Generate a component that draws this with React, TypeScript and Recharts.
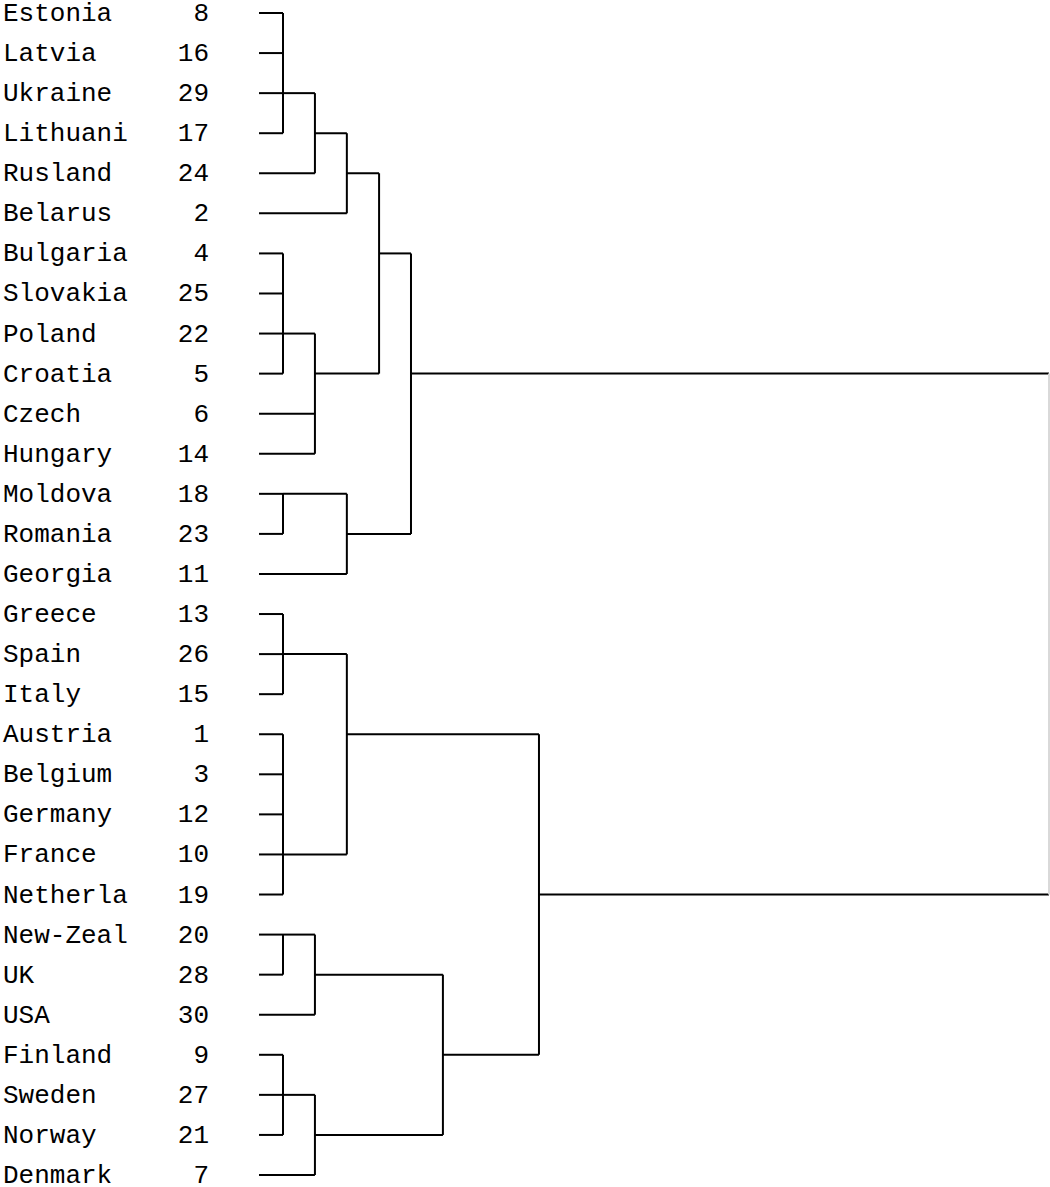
import { ComposedChart, ReferenceLine, Scatter, XAxis, YAxis } from "recharts";

// leaf order top to bottom, with case numbers
const names = [
  "Estonia", "Latvia", "Ukraine", "Lithuani", "Rusland", "Belarus",
  "Bulgaria", "Slovakia", "Poland", "Croatia", "Czech", "Hungary",
  "Moldova", "Romania", "Georgia", "Greece", "Spain", "Italy",
  "Austria", "Belgium", "Germany", "France", "Netherla", "New-Zeal",
  "UK", "USA", "Finland", "Sweden", "Norway", "Denmark",
];
const caseIds = [8, 16, 29, 17, 24, 2, 4, 25, 22, 5, 6, 14, 18, 23, 11, 13, 26, 15, 1, 3, 12, 10, 19, 20, 28, 30, 9, 27, 21, 7];

// merge steps (rescaled distance 0-25). children: "L<n>" = leaf row, "N<n>" = earlier merge
const mergeHeights = [0.76, 1.77, 2.78, 0.76, 1.77, 3.8, 0.76, 2.78, 4.81, 0.76, 0.76, 2.78, 0.76, 1.77, 0.76, 1.77, 5.82, 8.86, 25];
const mergeChildren = [
  ["L0", "L1", "L2", "L3"],
  ["N0", "L4"],
  ["N1", "L5"],
  ["L6", "L7", "L8", "L9"],
  ["N3", "L10", "L11"],
  ["N2", "N4"],
  ["L12", "L13"],
  ["N6", "L14"],
  ["N5", "N7"],
  ["L15", "L16", "L17"],
  ["L18", "L19", "L20", "L21", "L22"],
  ["N9", "N10"],
  ["L23", "L24"],
  ["N12", "L25"],
  ["L26", "L27", "L28"],
  ["N14", "L29"],
  ["N13", "N15"],
  ["N11", "N16"],
  ["N8", "N17"],
];
// row where each merge's outgoing line is drawn
const mergeRows = [2, 3, 4, 8, 9, 6, 12, 13, 9, 16, 21, 18, 23, 24, 27, 28, 26, 22, 15];

type Seg = { x1: number; y1: number; x2: number; y2: number; light?: boolean };

function buildSegments(): Seg[] {
  const parentOf: Record<string, number> = {};
  mergeChildren.forEach((kids, i) => kids.forEach((k) => (parentOf[k] = i)));
  const rowOf = (k: string) => (k[0] === "L" ? Number(k.slice(1)) : mergeRows[Number(k.slice(1))]);
  const segs: Seg[] = [];
  names.forEach((_, i) => {
    const p = parentOf["L" + i];
    segs.push({ x1: 0, y1: i, x2: mergeHeights[p], y2: i });
  });
  const root = mergeHeights.length - 1;
  mergeChildren.forEach((kids, i) => {
    const rows = kids.map(rowOf);
    segs.push({ x1: mergeHeights[i], y1: Math.min(...rows), x2: mergeHeights[i], y2: Math.max(...rows), light: i === root });
    if (i !== root) {
      const p = parentOf["N" + i];
      segs.push({ x1: mergeHeights[i], y1: mergeRows[i], x2: mergeHeights[p], y2: mergeRows[i] });
    }
  });
  return segs;
}

const segments = buildSegments();
const leafPoints = names.map((_, i) => ({ d: 0, row: i }));
const rowTicks = names.map((_, i) => i);

const FONT = "'Liberation Mono', 'Courier New', monospace";

function LeafTick({ y, payload }: any) {
  const i = payload.value as number;
  return (
    <g>
      <text x={3} y={y + 8} fontFamily={FONT} fontSize={26} fill="#000">
        {names[i]}
      </text>
      <text x={209} y={y + 8} fontFamily={FONT} fontSize={26} fill="#000" textAnchor="end">
        {caseIds[i]}
      </text>
    </g>
  );
}

export default function App() {
  return (
    <div style={{ background: "#fff" }}>
      <style>{`body{margin:0;background:#fff}`}</style>
      <ComposedChart width={1050} height={1187} margin={{ top: 13, right: 1, bottom: 12, left: 0 }}>
        <XAxis type="number" dataKey="d" domain={[0, 25]} hide />
        <YAxis
          type="number"
          dataKey="row"
          domain={[0, 29]}
          reversed
          ticks={rowTicks}
          interval={0}
          width={259}
          axisLine={false}
          tickLine={false}
          tick={<LeafTick />}
        />
        <Scatter data={leafPoints} fill="none" shape={() => <g />} isAnimationActive={false} />
        {segments.map((s, i) => (
          <ReferenceLine
            key={i}
            segment={[
              { x: s.x1, y: s.y1 },
              { x: s.x2, y: s.y2 },
            ]}
            stroke={s.light ? "#d9d9d9" : "#000"}
            strokeWidth={2}
            ifOverflow="visible"
          />
        ))}
      </ComposedChart>
    </div>
  );
}
